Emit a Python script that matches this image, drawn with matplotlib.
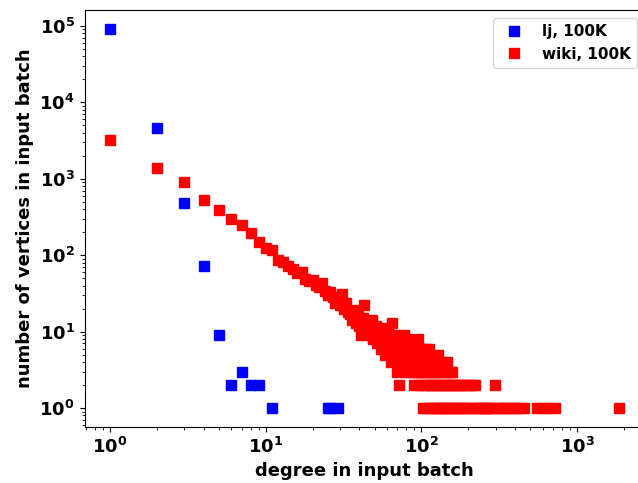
import matplotlib
matplotlib.use("Agg")
import matplotlib.pyplot as plt

# Degree distribution of the input batch (100K edges each)
lj_degree = [1, 2, 3, 4, 5, 6, 7, 8, 9, 11, 25, 26, 29]
lj_count = [91000, 4600, 480, 72, 9, 2, 3, 2, 2, 1, 1, 1, 1]

wiki_degree = [
    1, 2, 3, 4, 5, 6, 7, 8, 9, 10,
    11, 12, 13, 14, 15, 16, 17, 18, 19, 20,
    21, 22, 23, 24, 25, 26, 27, 28, 29, 30,
    31, 32, 33, 34, 35, 36, 37, 38, 39, 40,
    41, 42, 43, 44, 45, 46, 47, 48, 49, 50,
    51, 52, 53, 54, 55, 56, 57, 58, 59, 60,
    61, 62, 63, 64, 65, 66, 67, 68, 69, 70,
    71, 72, 73, 74, 75, 76, 77, 78, 79, 80,
    81, 82, 83, 84, 85, 86, 87, 88, 89, 90,
    91, 92, 93, 94, 95, 96, 97, 98, 99, 100,
    101, 102, 103, 104, 105, 106, 107, 108, 109, 110,
    112, 113, 114, 115, 116, 117, 118, 119, 120, 121,
    122, 124, 125, 126, 128, 129, 130, 131, 133, 134,
    135, 137, 138, 140, 142, 143, 145, 147, 148, 150,
    152, 154, 156, 158, 160, 163, 165, 168, 171, 174,
    178, 182, 186, 190, 194, 199, 203, 208, 214, 220,
    226, 233, 240, 248, 256, 265, 275, 286, 299, 310,
    325, 340, 360, 380, 400, 425, 453, 552, 600, 650,
    720, 1858,
]
wiki_count = [
    3200, 1400, 900, 520, 385, 300, 248, 195, 150, 124,
    118, 86, 82, 72, 66, 58, 61, 49, 46, 48,
    41, 38, 43, 34, 30, 33, 28, 24, 26, 22,
    31, 20, 24, 18, 17, 14, 19, 13, 16, 12,
    9, 15, 22, 11, 10, 13, 9, 14, 8, 11,
    12, 7, 10, 9, 6, 11, 8, 5, 9, 7,
    10, 6, 8, 4, 13, 7, 5, 9, 6, 3,
    8, 2, 5, 7, 4, 6, 9, 3, 5, 7,
    4, 8, 3, 6, 5, 4, 7, 3, 5, 2,
    6, 4, 3, 5, 8, 2, 4, 3, 6, 3,
    5, 2, 1, 4, 3, 2, 6, 1, 3, 4,
    6, 2, 1, 3, 5, 2, 4, 1, 3, 2,
    4, 1, 3, 2, 5, 1, 3, 2, 1, 4,
    3, 2, 1, 3, 2, 1, 4, 2, 1, 3,
    2, 1, 3, 3, 2, 1, 2, 1, 2, 1,
    2, 1, 2, 1, 2, 1, 2, 1, 2, 2,
    1, 1, 1, 1, 1, 1, 1, 1, 2, 1,
    1, 1, 1, 1, 1, 1, 1, 1, 1, 1,
    1, 1,
]

fig = plt.figure(figsize=(6.38, 4.83), dpi=100)
ax = fig.add_axes([0.1326, 0.116, 0.8774, 0.863])

ax.plot(lj_degree, lj_count, ls="none", marker="s", ms=7.5, color="blue",
        label="lj, 100K")
ax.plot(wiki_degree, wiki_count, ls="none", marker="s", ms=7.5, color="red",
        label="wiki, 100K")

ax.set_xscale("log")
ax.set_yscale("log")

ax.set_xlabel("degree in input batch", fontsize=13, fontweight="bold")
ax.set_ylabel("number of vertices in input batch", fontsize=13,
              fontweight="bold")
for lbl in ax.get_xticklabels() + ax.get_yticklabels():
    lbl.set_fontweight("bold")
ax.tick_params(axis="both", which="major", labelsize=13)

leg = ax.legend(loc="upper right", numpoints=1,
                prop={"weight": "bold", "size": 11})

fig.savefig("out.png", dpi=100)
